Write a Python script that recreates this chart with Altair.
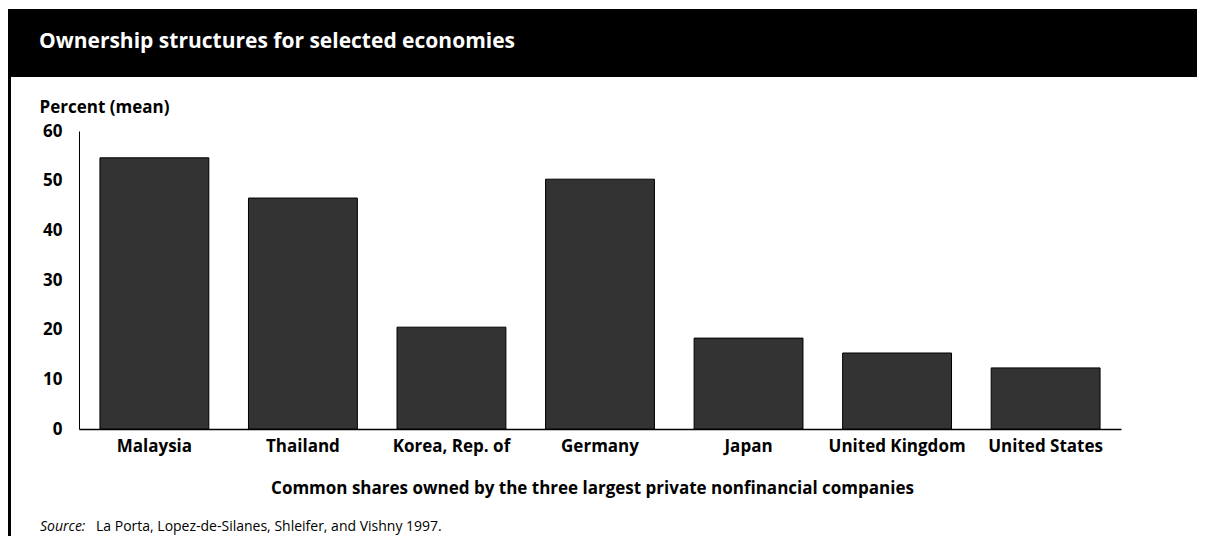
import altair as alt
import pandas as pd

countries = ["Malaysia", "Thailand", "Korea, Rep. of", "Germany", "Japan",
             "United Kingdom", "United States"]
shares = [54.6, 46.5, 20.5, 50.3, 18.3, 15.3, 12.3]
y_ticks = [0, 10, 20, 30, 40, 50, 60]

title_text = "Ownership structures for selected economies"
y_title = "Percent (mean)"
x_title = "Common shares owned by the three largest private nonfinancial companies"
source_label = "Source:"
source_text = "La Porta, Lopez-de-Silanes, Shleifer, and Vishny 1997."

W, H = 1042, 298
FONT = "Open Sans"

df = pd.DataFrame({"country": countries, "share": shares})
one = pd.DataFrame({"k": [0]})

bars = alt.Chart(df).mark_bar(
    color="#333333", stroke="#000000", strokeWidth=1
).encode(
    x=alt.X("country:N", sort=countries,
            scale=alt.Scale(paddingInner=0.267, paddingOuter=0.141),
            axis=alt.Axis(title=x_title, labelAngle=0, ticks=False, tickSize=0,
                          labelPadding=9, labelFont=FONT, labelFontSize=17,
                          labelFontWeight="bold", labelColor="#000",
                          domainColor="#000", domainWidth=1.5,
                          titleFont=FONT, titleFontSize=17, titleFontWeight="bold",
                          titleColor="#000", titleBaseline="alphabetic",
                          titleX=513, titleY=64)),
    y=alt.Y("share:Q", scale=alt.Scale(domain=[0, 60], nice=False),
            axis=alt.Axis(title=y_title, values=y_ticks, grid=False, ticks=False,
                          tickSize=0, labelPadding=17, labelFont=FONT,
                          labelFontSize=17, labelFontWeight="bold", labelColor="#000",
                          domainColor="#000", domainWidth=1,
                          titleFont=FONT, titleFontSize=17, titleFontWeight="bold",
                          titleColor="#000", titleAngle=0, titleAlign="left",
                          titleBaseline="alphabetic", titleX=-40, titleY=-19)),
)

header = alt.Chart(one).mark_rect(color="#000000").encode(
    x=alt.value(-71), x2=alt.value(W + 76), y=alt.value(-122), y2=alt.value(-54)
)
border = alt.Chart(one).mark_rect(color="#000000").encode(
    x=alt.value(-71), x2=alt.value(-68), y=alt.value(-54), y2=alt.value(H + 107)
)
title = alt.Chart(one).mark_text(
    font=FONT, fontSize=21, fontWeight="bold", color="#ffffff",
    align="left", baseline="alphabetic"
).encode(x=alt.value(-40), y=alt.value(-83), text=alt.value(title_text))

src1 = alt.Chart(one).mark_text(
    font=FONT, fontSize=14, fontStyle="italic", color="#000",
    align="left", baseline="alphabetic"
).encode(x=alt.value(-39), y=alt.value(400), text=alt.value(source_label))
src2 = alt.Chart(one).mark_text(
    font=FONT, fontSize=14, color="#000", align="left", baseline="alphabetic"
).encode(x=alt.value(17), y=alt.value(400), text=alt.value(source_text))

chart = alt.layer(header, border, title, src1, src2, bars).properties(
    width=W, height=H,
    autosize=alt.AutoSizeParams(type="none"),
    padding={"left": 71, "top": 123, "right": 76, "bottom": 107},
    background="#ffffff",
).configure_view(stroke=None)

chart.save("out.html", embed_options={"renderer": "svg", "actions": False})
